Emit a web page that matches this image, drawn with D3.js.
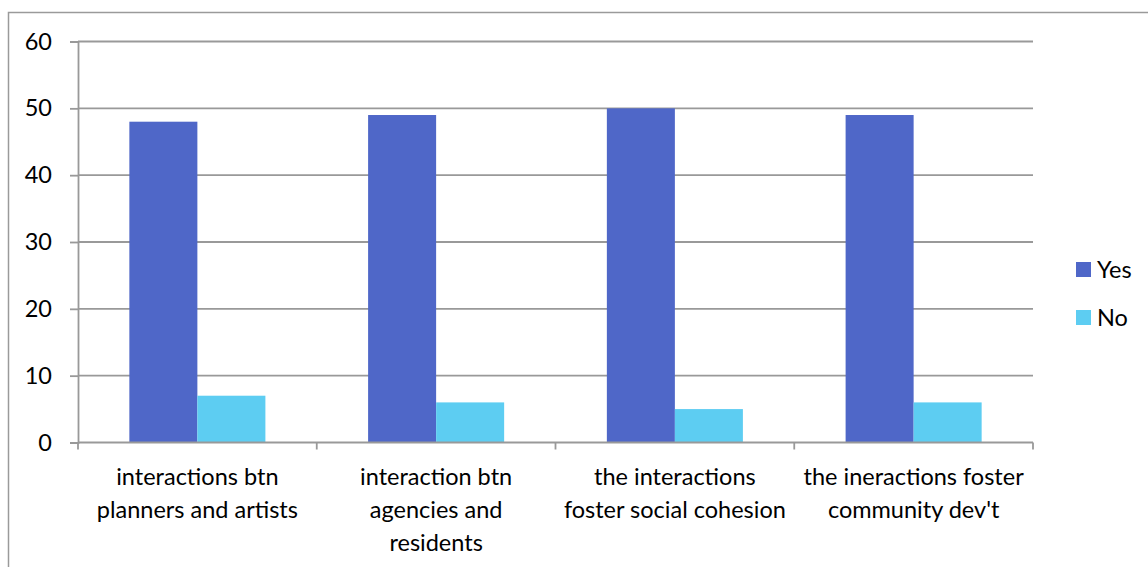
<!DOCTYPE html>
<html>
<head>
<meta charset="utf-8">
<script src="https://cdn.jsdelivr.net/npm/d3@7/dist/d3.min.js"></script>
<style>
  html, body { margin: 0; padding: 0; background: #fff; }
  svg { display: block; }
  text { font-family: Lato, "Open Sans", sans-serif; fill: #000; }
</style>
</head>
<body>
<svg id="chart" width="1148" height="567"></svg>
<script>
// Survey responses per statement
const categories = [
  ["interactions btn", "planners and artists"],
  ["interaction btn", "agencies and", "residents"],
  ["the interactions", "foster social cohesion"],
  ["the ineractions foster", "community dev't"]
];
const seriesNames = ["Yes", "No"];
const yesValues = [48, 49, 50, 49];
const noValues = [7, 6, 5, 6];
const yTicks = [0, 10, 20, 30, 40, 50, 60];
const colors = ["#4F67C8", "#5DCDF2"];

const FONT_SIZE = 23.5;
const svg = d3.select("#chart");
const W = 1148, H = 567;
const plot = { left: 78, right: 1033, top: 41.5, bottom: 442.5 };

// Outer frame
svg.append("rect")
  .attr("x", 8.5).attr("y", 12.5)
  .attr("width", W + 10).attr("height", H + 10)
  .attr("fill", "none").attr("stroke", "#9a9a9a").attr("stroke-width", 1.5);

const x0 = d3.scaleBand()
  .domain(d3.range(categories.length))
  .range([plot.left, plot.right])
  .paddingInner(0).paddingOuter(0);

const x1 = d3.scaleBand()
  .domain(seriesNames)
  .range([0, x0.bandwidth()])
  .paddingInner(0)
  .paddingOuter(0.755);

const y = d3.scaleLinear().domain([0, 60]).range([plot.bottom, plot.top]);

// Horizontal gridlines
svg.append("g")
  .selectAll("line")
  .data(yTicks.filter(t => t > 0))
  .join("line")
  .attr("x1", plot.left).attr("x2", plot.right)
  .attr("y1", d => y(d)).attr("y2", d => y(d))
  .attr("stroke", "#999").attr("stroke-width", 1.8);

// Bars
const rows = categories.map((c, i) => ({ i, values: [yesValues[i], noValues[i]] }));
const groups = svg.append("g").selectAll("g")
  .data(rows).join("g")
  .attr("transform", d => `translate(${x0(d.i)},0)`);
groups.selectAll("rect")
  .data(d => d.values.map((v, k) => ({ k, v })))
  .join("rect")
  .attr("x", d => x1(seriesNames[d.k]))
  .attr("width", x1.bandwidth())
  .attr("y", d => y(d.v))
  .attr("height", d => y(0) - y(d.v))
  .attr("fill", d => colors[d.k]);

// Y axis
const yAxis = svg.append("g")
  .attr("transform", `translate(${plot.left},0)`)
  .call(d3.axisLeft(y).tickValues(yTicks).tickSize(8).tickPadding(18));
yAxis.select(".domain").attr("stroke", "#999").attr("stroke-width", 1.8);
yAxis.selectAll(".tick line").attr("stroke", "#999").attr("stroke-width", 1.8);
yAxis.selectAll(".tick text")
  .style("font-family", "Lato, 'Open Sans', sans-serif")
  .style("font-size", FONT_SIZE + "px").attr("fill", "#000");

// X axis with category ticks at band boundaries
const xAxisG = svg.append("g").attr("transform", `translate(0,${plot.bottom})`);
xAxisG.append("line")
  .attr("x1", plot.left).attr("x2", plot.right)
  .attr("stroke", "#999").attr("stroke-width", 1.8);
const bounds = d3.range(categories.length + 1).map(i =>
  i < categories.length ? x0(i) : x0(i - 1) + x0.bandwidth());
xAxisG.selectAll("line.tk")
  .data(bounds).join("line")
  .attr("class", "tk")
  .attr("x1", d => d).attr("x2", d => d)
  .attr("y1", 0).attr("y2", 7)
  .attr("stroke", "#999").attr("stroke-width", 1.8);

// Category labels
const labels = svg.append("g").selectAll("text")
  .data(categories).join("text")
  .attr("text-anchor", "middle")
  .attr("font-size", FONT_SIZE)
  .attr("x", (d, i) => x0(i) + x0.bandwidth() / 2)
  .attr("y", 485);
labels.selectAll("tspan")
  .data(d => d).join("tspan")
  .attr("x", function () { return d3.select(this.parentNode).attr("x"); })
  .attr("dy", (d, k) => k === 0 ? 0 : 33)
  .text(d => d);

// Legend
const legend = svg.append("g").selectAll("g")
  .data(seriesNames).join("g")
  .attr("transform", (d, k) => `translate(1076,${262 + k * 48})`);
legend.append("rect")
  .attr("width", 15).attr("height", 15)
  .attr("fill", (d, k) => colors[k]);
legend.append("text")
  .attr("x", 21).attr("y", 7.5)
  .attr("dy", "0.36em")
  .attr("font-size", FONT_SIZE)
  .text(d => d);
</script>
</body>
</html>
